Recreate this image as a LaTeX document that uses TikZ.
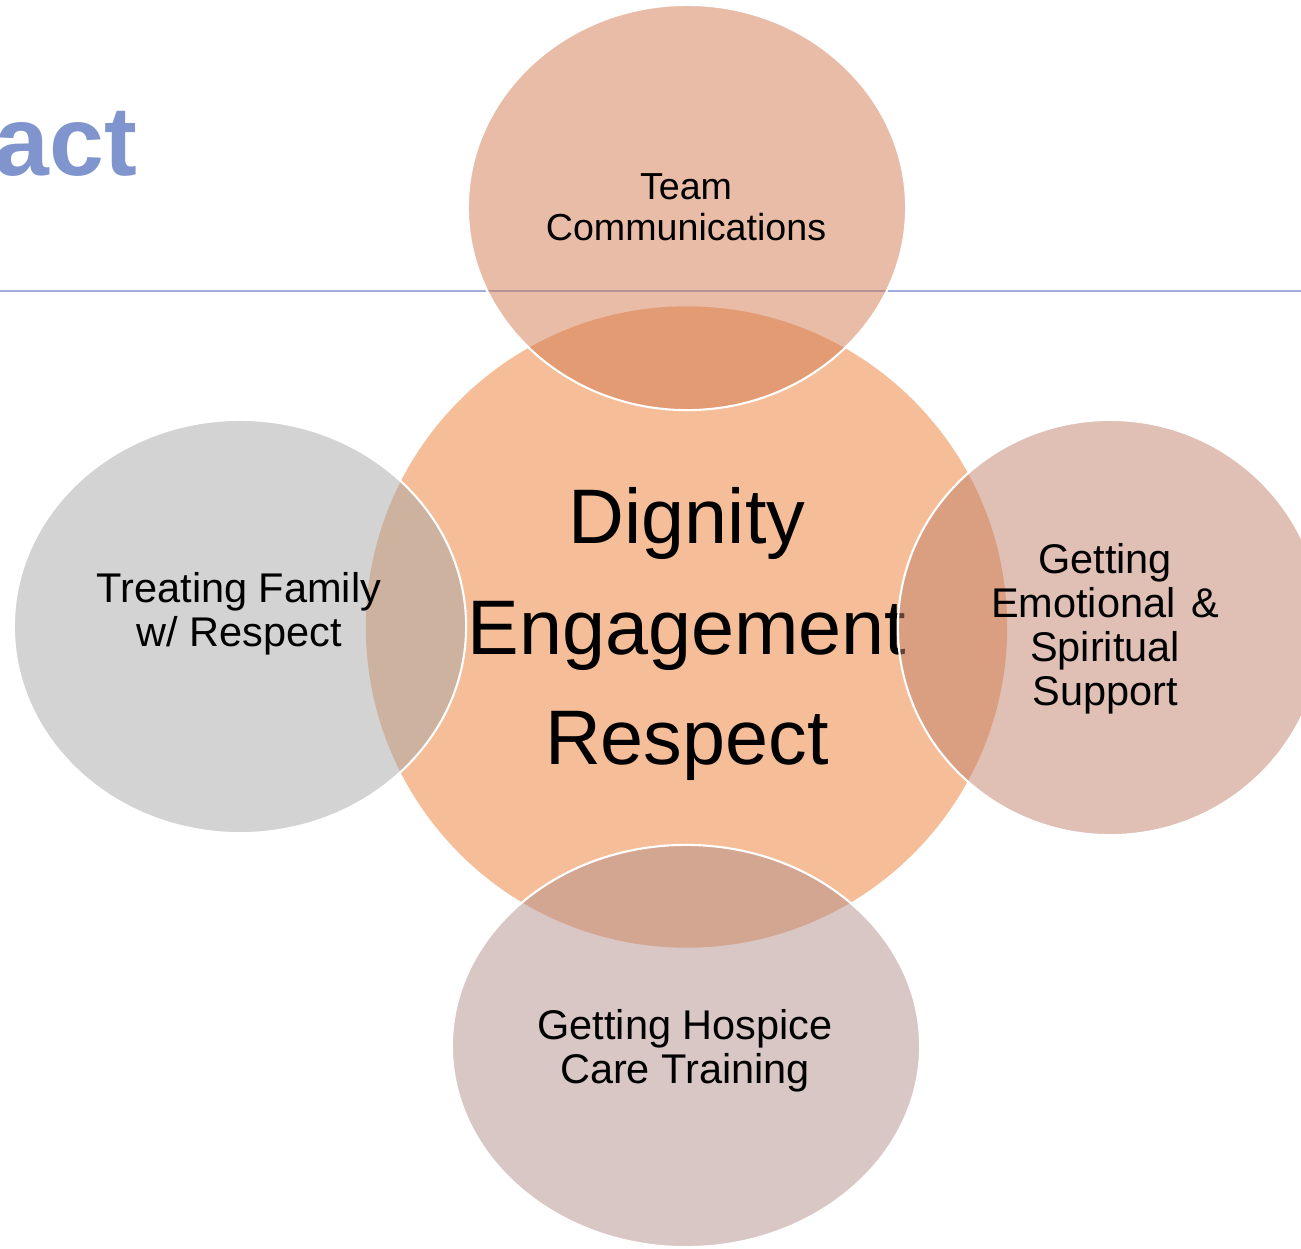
\documentclass[tikz,border=0pt]{standalone}
\usepackage{fontspec}
\setmainfont{Liberation Sans}
\usetikzlibrary{shapes.geometric}

\definecolor{headblue}{RGB}{128,148,205}
\definecolor{ruleblue}{RGB}{160,172,222}
\definecolor{corefill}{RGB}{245,190,153}
\definecolor{teamfill}{RGB}{211,121,81}
\definecolor{familyfill}{RGB}{167,167,167}
\definecolor{supportfill}{RGB}{193,127,107}
\definecolor{trainingfill}{RGB}{179,143,141}

\tikzset{
  petal/.style={ellipse, draw=white, line width=0.6pt, fill opacity=0.5, draw opacity=1, inner sep=0pt},
  petaltext/.style={align=center, inner sep=0pt, font=\fontsize{11.8}{12.5}\selectfont},
}

\begin{document}
\begin{tikzpicture}[x=0.01cm,y=-0.01cm]
\useasboundingbox (0,0) rectangle (1301,1248);
% heading remnant and rule under it
\node[anchor=base east, inner sep=0pt, text=headblue, font=\fontsize{28}{30}\selectfont\bfseries] (head) at (138,175) {act};
\draw[ruleblue, line width=0.55pt] (0,291) -- (1301,291);
% centre circle with its three words
\node[circle, fill=corefill, minimum size=6.41cm, inner sep=0pt] (core) at (686.5,627) {};
\node[align=center, inner sep=0pt, font=\fontsize{22}{31.3}\selectfont] (corelabel) at (687,634) {Dignity\\Engagement\\Respect};
% four petals, half transparent, over the centre
\node[petal, fill=teamfill, minimum width=4.38cm, minimum height=4.05cm] (team) at (687,207.5) {};
\node[petal, fill=familyfill, minimum width=4.52cm, minimum height=4.13cm] (family) at (240,626.5) {};
\node[petal, fill=supportfill, minimum width=4.24cm, minimum height=4.15cm] (support) at (1110,627.5) {};
\node[petal, fill=trainingfill, minimum width=4.68cm, minimum height=4.02cm] (training) at (686,1046) {};
% petal texts
\node[petaltext, font=\fontsize{10.7}{11.6}\selectfont] (teamlabel) at (686,207) {Team\\Communications};
\node[petaltext] (familylabel) at (239,614) {Treating Family\\w/ Respect};
\node[petaltext] (supportlabel) at (1105,629) {Getting\\Emotional\hspace{0.1em} \&\\Spiritual\\Support};
\node[petaltext] (traininglabel) at (685,1051) {Getting Hospice\\Care Training};
\end{tikzpicture}
\end{document}
